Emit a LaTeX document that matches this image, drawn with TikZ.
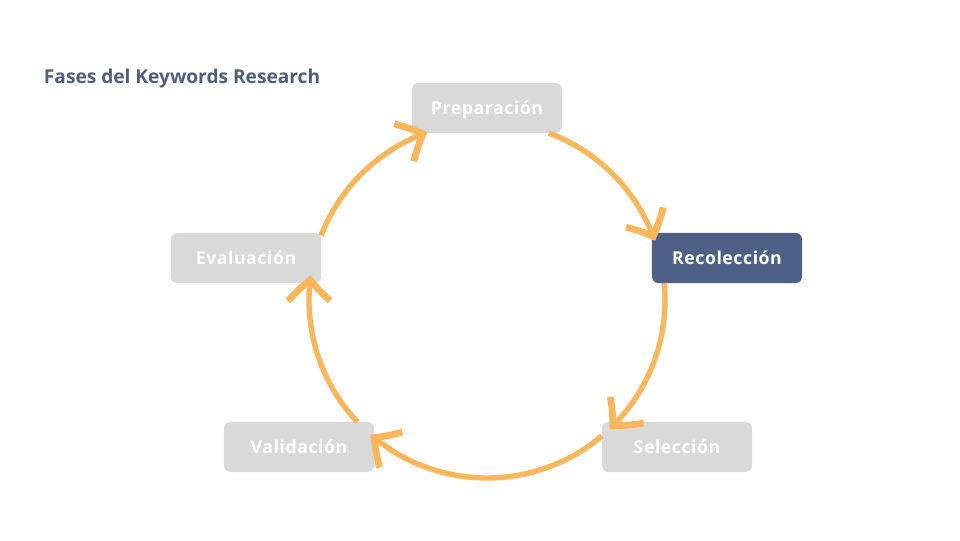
\documentclass[tikz,border=0pt]{standalone}
\usepackage{fontspec}
\setmainfont{Open Sans}
\usetikzlibrary{arrows.meta,bending}
\definecolor{naranja}{HTML}{F9B65A}
\definecolor{gris}{HTML}{D9D9D9}
\definecolor{azul}{HTML}{4E6086}
\definecolor{titulo}{HTML}{4E5E80}

\begin{document}
\begin{tikzpicture}[x=0.025cm,y=0.025cm,
	fase/.style={fill=gris, text=white, rounded corners=4.5pt, minimum width=3.75cm, minimum height=1.25cm, inner sep=0pt, text height=9pt, text depth=0pt, font=\bfseries\fontsize{12.6}{14}\selectfont\addfontfeatures{LetterSpace=3}},
	activa/.style={fase, fill=azul},
	flecha/.style={naranja, line width=3.8pt, -{Straight Barb[length=15pt,width=30pt,line width=4.8pt,bend]}}]
	\useasboundingbox (0,0) rectangle (960,540);
	\coordinate (centro) at (487,240);
	\def\radio{178}
	\node[fase] (prep) at (487,432) {Preparación};
	\node[activa] (reco) at (727,282) {Recolección};
	\node[fase] (sele) at (677,93) {Selección};
	\node[fase] (vali) at (299,93) {Validación};
	\node[fase] (eval) at (246,282) {Evaluación};
	\node[anchor=west, text=titulo, font=\bfseries\fontsize{13.6}{16}\selectfont] (titulo) at (39,461) {Fases del Keywords Research};
	\draw[flecha] ([shift={(69.7:\radio)}]centro) arc[start angle=69.7, end angle=19.4, radius=\radio];
	\draw[flecha] ([shift={(5.5:\radio)}]centro) arc[start angle=5.5, end angle=-46.5, radius=\radio];
	\draw[flecha] ([shift={(-49.8:\radio)}]centro) arc[start angle=-49.8, end angle=-130.9, radius=\radio];
	\draw[flecha] ([shift={(-136.7:\radio)}]centro) arc[start angle=-136.7, end angle=-188, radius=\radio];
	\draw[flecha] ([shift={(158.8:\radio)}]centro) arc[start angle=158.8, end angle=109.5, radius=\radio];
\end{tikzpicture}
\end{document}
